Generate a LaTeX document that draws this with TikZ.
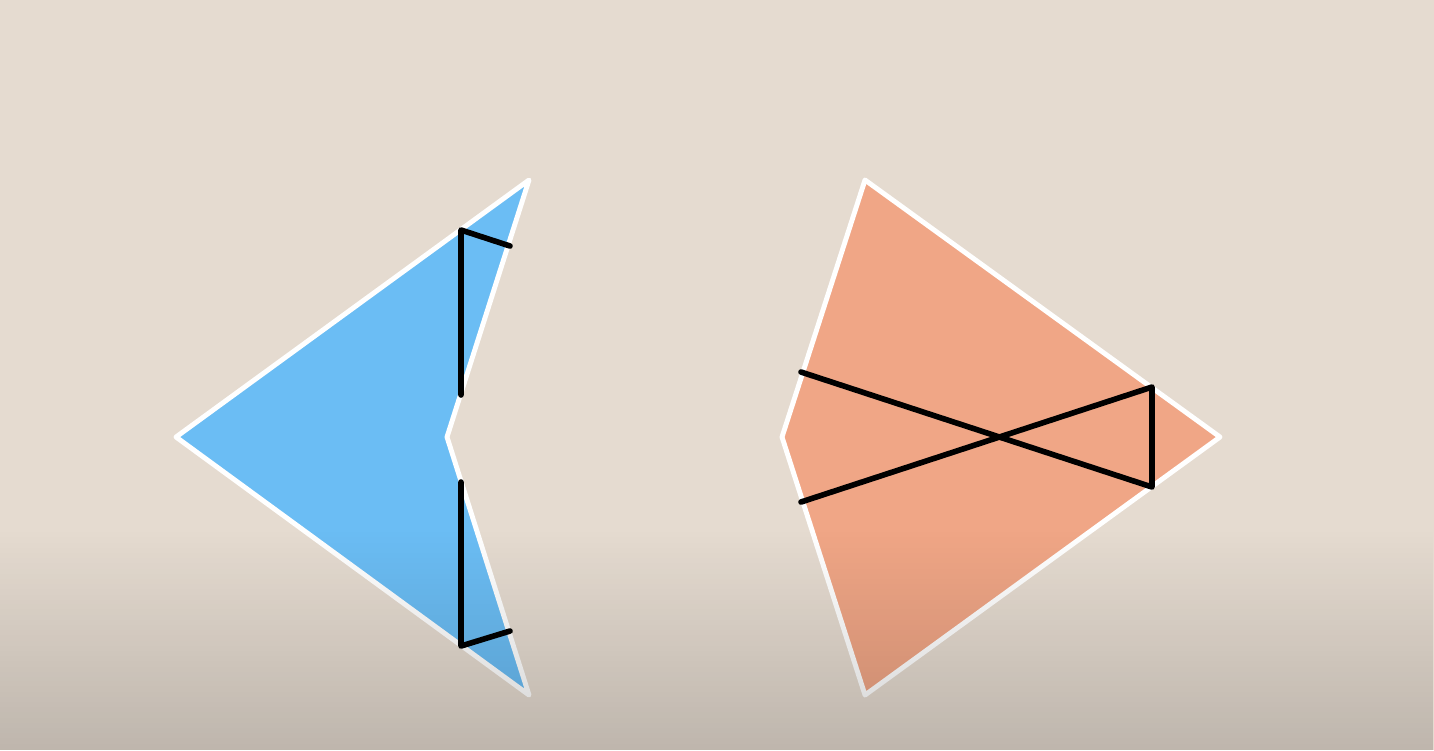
\documentclass[tikz,border=0pt]{standalone}
\usetikzlibrary{fadings}
\definecolor{bgtop}{RGB}{229,219,208}
\definecolor{bluefill}{RGB}{107,189,244}
\definecolor{orangefill}{RGB}{240,166,134}
\tikzset{
  shapeedge/.style={draw=white, line width=1.4pt, line join=round},
  markline/.style={draw=black, line width=1.6pt, line cap=round, line join=round}
}
\begin{document}
\begin{tikzpicture}[x=0.01cm,y=-0.01cm]
\useasboundingbox (0,0) rectangle (1434,750);
\fill[bgtop] (0,0) rectangle (1434,750);
% blue dart
\coordinate (bL) at (176,437);
\coordinate (bT) at (529,180);
\coordinate (bI) at (447,437);
\coordinate (bB) at (529,695);
\fill[bluefill, shapeedge] (bL) -- (bT) -- (bI) -- (bB) -- cycle;
\coordinate (b1) at (461,395);
\coordinate (b2) at (461,230);
\coordinate (b3) at (510,246);
\coordinate (b4) at (461,482);
\coordinate (b5) at (461,646);
\coordinate (b6) at (510,631);
\draw[markline] (b1) -- (b2) -- (b3);
\draw[markline] (b4) -- (b5) -- (b6);
% orange kite
\coordinate (oT) at (865,180);
\coordinate (oR) at (1220,437);
\coordinate (oB) at (865,695);
\coordinate (oL) at (782,437);
\fill[orangefill, shapeedge] (oT) -- (oR) -- (oB) -- (oL) -- cycle;
\coordinate (o1) at (801,372);
\coordinate (o2) at (1152,487);
\coordinate (o3) at (1152,387);
\coordinate (o4) at (801,502);
\draw[markline] (o1) -- (o2) -- (o3) -- (o4);
% bottom shadow
\fill[black, opacity=0.17, path fading=north] (0,530) rectangle (1434,750);
\end{tikzpicture}
\end{document}
